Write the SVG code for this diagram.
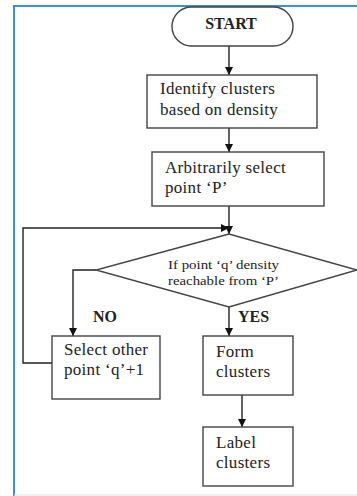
<svg xmlns="http://www.w3.org/2000/svg" width="357" height="496" viewBox="0 0 357 496">
<defs>
<marker id="arr" viewBox="0 0 10 10" refX="10" refY="5" markerWidth="8" markerHeight="8" markerUnits="userSpaceOnUse" orient="auto">
<path d="M0,0 L10,5 L0,10 z" fill="#111"/>
</marker>
<style>
.box{fill:#fff;stroke:#444;stroke-width:1.4}
.t{font-family:"Liberation Serif","Times New Roman",serif;font-size:17px;letter-spacing:0.3px;fill:#222}
.b{font-weight:bold;font-size:16px;letter-spacing:0}
.s{font-size:13px;letter-spacing:0}
.c{fill:none;stroke:#222;stroke-width:1.4}
</style>
</defs>
<rect width="357" height="496" fill="#fff"/>
<path d="M14,496 V6 H357" fill="none" stroke="#3a8ee6" stroke-width="2"/>
<line x1="14" y1="495" x2="357" y2="495" stroke="#e4e4e4" stroke-width="1"/>
<g id="connectors">
<line class="c" x1="229" y1="46" x2="229" y2="75" marker-end="url(#arr)"/>
<line class="c" x1="229" y1="128" x2="229" y2="152" marker-end="url(#arr)"/>
<line class="c" x1="229" y1="206" x2="229" y2="234" marker-end="url(#arr)"/>
<polyline class="c" points="52,363 23,363 23,228 229,228" marker-end="url(#arr)"/>
<polyline class="c" points="96,270 73,270 73,336" marker-end="url(#arr)"/>
<line class="c" x1="229" y1="307" x2="229" y2="336" marker-end="url(#arr)"/>
<line class="c" x1="242" y1="395" x2="242" y2="427" marker-end="url(#arr)"/>
<text class="t b" x="93" y="322">NO</text>
<text class="t b" x="238" y="322">YES</text>
</g>
<g id="start">
<rect class="box" x="172" y="7" width="121" height="39" rx="19.5" ry="19.5" stroke="#777"/>
<text class="t b" x="231" y="29" text-anchor="middle">START</text>
</g>
<g id="identify">
<rect class="box" x="147" y="75" width="170" height="53"/>
<text class="t" x="160" y="94">Identify clusters</text>
<text class="t" x="160" y="115">based on density</text>
</g>
<g id="select-p">
<rect class="box" x="152" y="152" width="172" height="54"/>
<text class="t" x="165" y="173">Arbitrarily select</text>
<text class="t" x="165" y="193">point ‘P’</text>
</g>
<g id="decision">
<polygon class="box" points="229,234 96,270 229,307 357,270" stroke="#666"/>
<text class="t s" x="168" y="269" textLength="111" lengthAdjust="spacingAndGlyphs">If point ‘q’ density</text>
<text class="t s" x="168" y="285" textLength="111" lengthAdjust="spacingAndGlyphs">reachable from ‘P’</text>
</g>
<g id="select-q">
<rect class="box" x="52" y="336" width="108" height="63"/>
<text class="t" x="64" y="355">Select other</text>
<text class="t" x="64" y="375">point ‘q’+1</text>
</g>
<g id="form">
<rect class="box" x="203" y="336" width="90" height="59"/>
<text class="t" x="216" y="357">Form</text>
<text class="t" x="216" y="377">clusters</text>
</g>
<g id="label">
<rect class="box" x="203" y="427" width="90" height="59"/>
<text class="t" x="216" y="448">Label</text>
<text class="t" x="216" y="468">clusters</text>
</g>
</svg>
